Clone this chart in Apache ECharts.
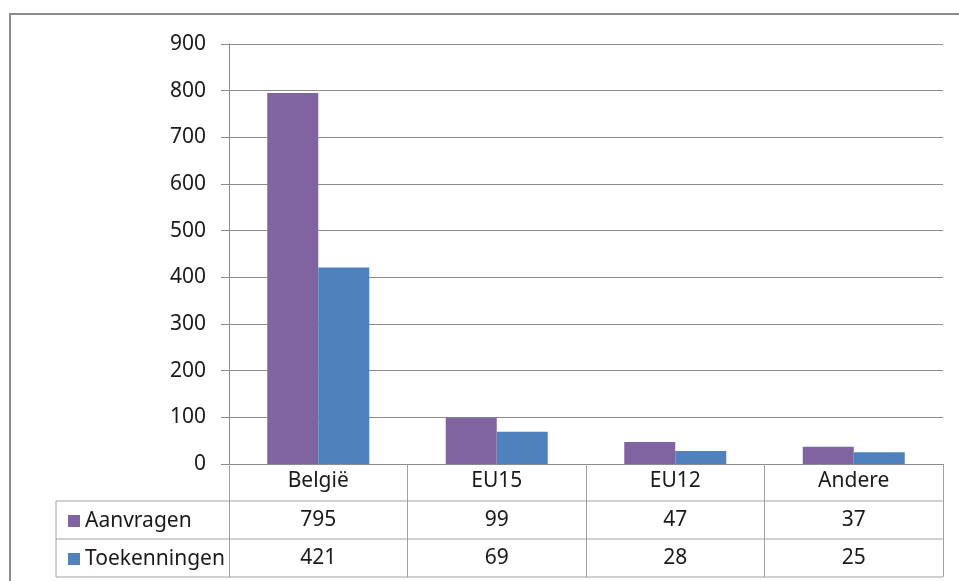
<!DOCTYPE html>
<html>
<head>
<meta charset="utf-8">
<script src="https://cdn.jsdelivr.net/npm/echarts@6/dist/echarts.min.js"></script>
<style>
  html, body { margin: 0; padding: 0; background: #fff; }
  #chart { width: 959px; height: 581px; }
</style>
</head>
<body>
<div id="chart"></div>
<script>
const categories = ["België", "EU15", "EU12", "Andere"];
const aanvragen = [795, 99, 47, 37];
const toekenningen = [421, 69, 28, 25];
const seriesNames = ["Aanvragen", "Toekenningen"];
const yTicks = { min: 0, max: 900, interval: 100 };

const font = "Noto Sans";
const fs = 21;
const lineCol = "#8c8c8c";
const tableCol = "#a0a0a0";

function valueAxis(data, offset) {
  return {
    type: "category",
    data: data.map(String),
    gridIndex: 0,
    position: "bottom",
    offset: offset,
    axisLine: { show: false },
    axisTick: { show: false },
    axisLabel: { fontFamily: font, fontSize: fs, color: "#1a1a1a", margin: 8 },
  };
}

const chart = echarts.init(document.getElementById("chart"));
chart.setOption({
  animation: false,
  grid: { left: 229, right: 16, top: 44, bottom: 117 },
  legend: {
    orient: "vertical",
    left: 63,
    top: 505,
    itemGap: 16,
    itemWidth: 12,
    itemHeight: 12,
    itemStyle: { borderWidth: 0 },
    icon: "rect",
    data: seriesNames,
    textStyle: { fontFamily: font, fontSize: fs, color: "#1a1a1a", lineHeight: 22 },
  },
  xAxis: [
    {
      type: "category",
      data: categories,
      axisLine: { lineStyle: { color: lineCol } },
      axisTick: { show: true, length: 113, interval: 0, lineStyle: { color: tableCol } },
      axisLabel: { fontFamily: font, fontSize: fs, color: "#1a1a1a", margin: 7 },
    },
    valueAxis(aanvragen, 38),
    valueAxis(toekenningen, 76),
  ],
  yAxis: {
    type: "value",
    min: yTicks.min,
    max: yTicks.max,
    interval: yTicks.interval,
    axisLine: { show: true, lineStyle: { color: lineCol } },
    axisTick: { show: true, length: 8, lineStyle: { color: lineCol } },
    axisLabel: { fontFamily: font, fontSize: fs, color: "#1a1a1a", margin: 23 },
    splitLine: { lineStyle: { color: lineCol } },
  },
  series: [
    { name: seriesNames[0], type: "bar", data: aanvragen, barWidth: 51, barGap: "0%",
      itemStyle: { color: "#8064A2" } },
    { name: seriesNames[1], type: "bar", data: toekenningen, barWidth: 51,
      itemStyle: { color: "#4F81BD" } },
  ],
});

// table rules below the plot
const y0 = chart.convertToPixel({ yAxisIndex: 0 }, 0);
const xRight = chart.convertToPixel({ xAxisIndex: 0 }, categories.length - 1) + 89;
const rows = [y0 + 37, y0 + 75, y0 + 113];
const tableLeft = 56;
const graphic = [
  { type: "rect", shape: { x: 10, y: 14, width: 1000, height: 700 },
    style: { fill: null, stroke: "#8a8a8a", lineWidth: 2 }, silent: true },
  { type: "line", shape: { x1: tableLeft, y1: rows[0], x2: tableLeft, y2: rows[2] },
    style: { stroke: tableCol, lineWidth: 1 } },
];
rows.forEach((y) => {
  graphic.push({ type: "line", shape: { x1: tableLeft, y1: y, x2: xRight, y2: y },
    style: { stroke: tableCol, lineWidth: 1 } });
});
chart.setOption({ graphic: graphic });
</script>
</body>
</html>
